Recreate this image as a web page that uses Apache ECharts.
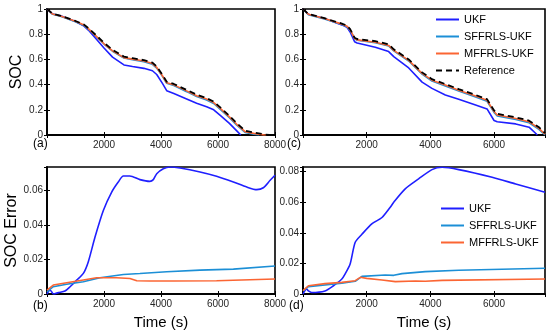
<!DOCTYPE html>
<html><head><meta charset="utf-8">
<script src="https://cdn.jsdelivr.net/npm/echarts@6/dist/echarts.min.js"></script>
<style>html,body{margin:0;padding:0;background:#fff}#c{width:550px;height:335px}</style>
</head><body><div id="c"></div>
<script>
var seriesNames = ['UKF','SFFRLS-UKF','MFFRLS-UKF','Reference'];
var panelLabels = ['(a)','(b)','(c)','(d)'];

// (a) SOC, left top
var ukfA = [[0,1],[200,0.96],[500,0.944],[1000,0.9],[1300,0.864],[1450,0.833],[1750,0.756],[2000,0.69],[2300,0.618],[2700,0.556],[3000,0.543],[3400,0.529],[3700,0.51],[3850,0.48],[4050,0.41],[4200,0.352],[4450,0.33],[4900,0.286],[5250,0.252],[5600,0.224],[5850,0.2],[6100,0.152],[6400,0.092],[6650,0.035],[6800,0]];
var sffA = [[0,1],[200,0.958],[500,0.94],[1000,0.899],[1300,0.868],[1450,0.84],[1750,0.776],[2000,0.722],[2300,0.665],[2700,0.611],[3000,0.598],[3400,0.582],[3700,0.561],[3850,0.531],[4050,0.465],[4200,0.41],[4450,0.392],[4900,0.344],[5250,0.305],[5600,0.277],[5850,0.25],[6100,0.2],[6400,0.137],[6650,0.08],[6950,0.02],[7250,0.006],[7450,0]];
var mffA = [[0,1],[200,0.96],[500,0.943],[1000,0.903],[1300,0.873],[1450,0.844],[1750,0.779],[2000,0.724],[2300,0.668],[2700,0.614],[3000,0.602],[3400,0.587],[3700,0.567],[3850,0.536],[4050,0.47],[4200,0.415],[4450,0.398],[4900,0.35],[5250,0.312],[5600,0.285],[5850,0.257],[6100,0.207],[6400,0.144],[6650,0.087],[6950,0.027],[7250,0.013],[7600,0.001],[7700,0]];
var refA = [[0,1],[200,0.962],[500,0.945],[1000,0.905],[1300,0.876],[1450,0.848],[1750,0.786],[2000,0.732],[2300,0.676],[2700,0.622],[3000,0.61],[3400,0.594],[3700,0.574],[3850,0.544],[4050,0.478],[4200,0.423],[4450,0.405],[4900,0.358],[5250,0.32],[5600,0.292],[5850,0.265],[6100,0.215],[6400,0.152],[6650,0.095],[6950,0.034],[7250,0.02],[7600,0.006],[7800,0]];

// (c) SOC, right top
var ukfC = [[0,1],[170,0.958],[700,0.923],[1220,0.874],[1380,0.855],[1480,0.818],[1620,0.74],[1700,0.73],[2270,0.697],[2690,0.662],[2850,0.622],[3320,0.532],[3740,0.42],[4050,0.37],[4470,0.318],[4890,0.283],[5420,0.238],[5780,0.207],[6000,0.115],[6100,0.105],[6680,0.088],[7100,0.062],[7360,0]];
var sffC = [[0,0.998],[170,0.955],[700,0.919],[1220,0.877],[1380,0.86],[1480,0.832],[1620,0.764],[1700,0.752],[2270,0.733],[2690,0.707],[2850,0.667],[3320,0.587],[3740,0.483],[4050,0.428],[4470,0.389],[4890,0.349],[5420,0.302],[5780,0.268],[6000,0.179],[6100,0.152],[6680,0.124],[7100,0.097],[7410,0.045],[7600,0]];
var mffC = [[0,1],[170,0.958],[700,0.922],[1220,0.88],[1380,0.864],[1480,0.836],[1620,0.766],[1700,0.755],[2270,0.736],[2690,0.711],[2850,0.672],[3320,0.592],[3740,0.489],[4050,0.435],[4470,0.396],[4890,0.356],[5420,0.31],[5780,0.276],[6000,0.186],[6100,0.159],[6680,0.131],[7100,0.105],[7410,0.053],[7600,0.006]];
var refC = [[0,1],[170,0.96],[700,0.925],[1220,0.884],[1380,0.868],[1480,0.84],[1620,0.772],[1700,0.762],[2270,0.745],[2690,0.72],[2850,0.68],[3320,0.6],[3740,0.497],[4050,0.443],[4470,0.404],[4890,0.364],[5420,0.318],[5780,0.284],[6000,0.195],[6100,0.168],[6680,0.14],[7100,0.114],[7410,0.062],[7600,0.015]];

// (b) SOC error, left bottom
var ukfB = [[0,0],[105,0.0023],[164,0.0013],[220,0],[400,0.0008],[630,0.0017],[810,0.0042],[1040,0.008],[1275,0.0119],[1450,0.0187],[1685,0.033],[1980,0.0485],[2270,0.059],[2500,0.0648],[2680,0.0683],[2910,0.0683],[3260,0.0662],[3610,0.0652],[3730,0.0662],[3850,0.0696],[4080,0.0725],[4320,0.0735],[4670,0.0729],[5370,0.0706],[5950,0.0681],[6540,0.0648],[7010,0.0619],[7360,0.0604],[7590,0.0615],[7830,0.0658],[8000,0.0687]];
var sffB = [[0,0.0013],[220,0.0042],[690,0.0056],[1275,0.0071],[1860,0.0094],[2680,0.0113],[3260,0.0119],[4200,0.0129],[5370,0.0138],[6540,0.0144],[8000,0.0162]];
var mffB = [[0,0.0023],[220,0.0052],[690,0.0065],[1275,0.0081],[1740,0.0094],[2440,0.0094],[2910,0.009],[3150,0.0077],[3610,0.0075],[4430,0.0075],[5950,0.0077],[8000,0.0087]];

// (d) SOC error, right bottom
var ukfD = [[0,0],[115,0.0033],[170,0.002],[270,0.001],[690,0.002],[955,0.0054],[1220,0.0098],[1320,0.013],[1480,0.0196],[1640,0.0338],[1850,0.039],[2160,0.0458],[2480,0.05],[2740,0.0567],[2850,0.06],[3210,0.0687],[3630,0.0752],[4050,0.0813],[4370,0.0828],[4890,0.0813],[5940,0.0763],[6680,0.0719],[7600,0.0665]];
var sffD = [[0,0.002],[170,0.0048],[1220,0.007],[1640,0.0083],[1850,0.0115],[2580,0.0124],[2850,0.0122],[3110,0.0133],[3840,0.0146],[4890,0.0155],[7600,0.0168]];
var mffD = [[0,0.0022],[170,0.0054],[690,0.0068],[1220,0.0076],[1640,0.0087],[1800,0.0109],[2000,0.0102],[2480,0.0092],[2900,0.0081],[3530,0.0085],[3840,0.0083],[4370,0.0089],[7600,0.0098]];

var colors = ['#1f1fff','#1c8fd6','#fb6533','#000000'];
var FONT = 'Liberation Sans, Arial, sans-serif';

var panels = [
  {grid:{left:47,top:9,width:228,height:126}, xMax:8000, yMax:1, yInt:0.2, yName:'SOC', xName:'', series:[ukfA,sffA,mffA,refA], showMaxX:true, showMaxY:true, gap:22},
  {grid:{left:47,top:167,width:228,height:127}, xMax:8000, yMax:0.0735, yInt:0.02, yName:'SOC Error', xName:'Time (s)', series:[ukfB,sffB,mffB], showMaxX:true, showMaxY:false, gap:24},
  {grid:{left:303,top:9,width:242,height:126}, xMax:7600, yMax:1, yInt:0.2, yName:'', xName:'', series:[ukfC,sffC,mffC,refC], showMaxX:false, showMaxY:true, gap:24},
  {grid:{left:303,top:167,width:242,height:127}, xMax:7600, yMax:0.083, yInt:0.02, yName:'', xName:'Time (s)', series:[ukfD,sffD,mffD], showMaxX:false, showMaxY:false, gap:24}
];

var option = {animation:false, backgroundColor:'#fff', grid:[], xAxis:[], yAxis:[], series:[], legend:[], graphic:[]};
var tickStyle = {show:true, inside:true, length:3, lineStyle:{color:'#000', width:1}};
function plain(v){ return String(Math.round(v*1e6)/1e6); }
panels.forEach(function(p, i){
  option.grid.push(Object.assign({show:true, borderColor:'#000', borderWidth:1.6, backgroundColor:'#fff'}, p.grid));
  var xi = option.xAxis.length, yi = option.yAxis.length;
  option.xAxis.push({type:'value', gridIndex:i, min:0, max:p.xMax, interval:2000, position:'bottom',
    axisLine:{show:true, lineStyle:{color:'#000', width:1.6}}, axisTick:tickStyle, splitLine:{show:false},
    axisLabel:{color:'#262626', fontSize:10, fontFamily:FONT, margin:5, showMinLabel:false, showMaxLabel:p.showMaxX, formatter:plain},
    name:p.xName, nameLocation:'middle', nameGap:21, nameTextStyle:{color:'#000', fontSize:15, fontFamily:FONT}});
  option.xAxis.push({type:'value', gridIndex:i, min:0, max:p.xMax, interval:2000, position:'top',
    axisLine:{show:true, lineStyle:{color:'#000', width:1.6}}, axisTick:tickStyle, axisLabel:{show:false}, splitLine:{show:false}});
  option.yAxis.push({type:'value', gridIndex:i, min:0, max:p.yMax, interval:p.yInt, position:'left',
    axisLine:{show:true, lineStyle:{color:'#000', width:1.6}}, axisTick:tickStyle, splitLine:{show:false},
    axisLabel:{color:'#262626', fontSize:10, fontFamily:FONT, margin:4, showMaxLabel:p.showMaxY, formatter:plain},
    name:p.yName, nameLocation:'middle', nameGap:p.gap, nameRotate:90, nameTextStyle:{color:'#000', fontSize:16, fontFamily:FONT}});
  option.yAxis.push({type:'value', gridIndex:i, min:0, max:p.yMax, interval:p.yInt, position:'right',
    axisLine:{show:true, lineStyle:{color:'#000', width:1.6}}, axisTick:tickStyle, axisLabel:{show:false}, splitLine:{show:false}});
  p.series.forEach(function(d, k){
    option.series.push({type:'line', name:seriesNames[k], xAxisIndex:xi, yAxisIndex:yi, data:d,
      showSymbol:false, symbol:'none', smooth:(i%2===1 && k===0)?0.25:false, clip:true,
      lineStyle:{color:colors[k], width:(k===3?1.8:1.6), type:(k===3?[6,4]:'solid')}, itemStyle:{color:colors[k]}, z:2+k});
  });
});

var legendBase = {show:true, orient:'vertical', padding:0, itemWidth:23, itemHeight:12, itemGap:6,
  itemStyle:{opacity:0, color:'transparent', borderWidth:0},
  textStyle:{color:'#000', fontSize:11, fontFamily:FONT}, selectedMode:false};
option.legend.push(Object.assign({}, legendBase, {left:435, top:14, data:seriesNames.slice()}));
option.legend.push(Object.assign({}, legendBase, {left:440, top:203, data:seriesNames.slice(0,3)}));

var labelPos = [[41,145],[41,307],[295,145],[297,307]];
panelLabels.forEach(function(t, i){
  option.graphic.push({type:'text', left:labelPos[i][0]-8, top:labelPos[i][1]-7, style:{text:t, fill:'#000', font:'12px '+FONT}});
});

var chart = echarts.init(document.getElementById('c'), null, {renderer:'canvas'});
chart.setOption(option);
</script></body></html>
